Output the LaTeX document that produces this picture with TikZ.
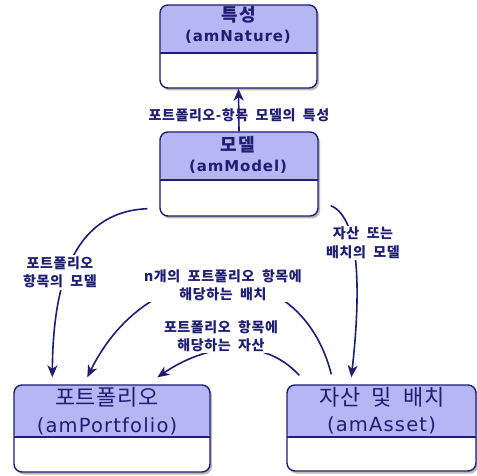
\documentclass[tikz,border=0pt]{standalone}
\usepackage{fontspec}
\setmainfont{Noto Sans CJK KR}[WordSpace=2]
\newfontfamily\lat{DejaVu Sans}
\usetikzlibrary{arrows.meta,shadows,calc}
\definecolor{navy}{RGB}{30,30,115}
\definecolor{hdr}{RGB}{182,182,244}
\begin{document}
\begin{tikzpicture}[x=1pt,y=-1pt,
  box/.style={draw=navy, line width=1.4pt, rounded corners=8pt, fill=white, inner sep=0pt,
    drop shadow={shadow xshift=2pt,shadow yshift=-2.5pt,fill=black!45,opacity=0.6},
    path picture={
      \fill[hdr] ([xshift=-2pt,yshift=2pt]path picture bounding box.north west) rectangle ([xshift=2pt,yshift=-#1]path picture bounding box.north east);
      \draw[navy,line width=1.6pt] ([xshift=-2pt,yshift=-#1]path picture bounding box.north west) -- ([xshift=2pt,yshift=-#1]path picture bounding box.north east);
    }},
  ktop/.style={text=navy, inner sep=0pt, font=\fontsize{18}{18}\selectfont\bfseries\addfontfeature{LetterSpace=6}},
  ltop/.style={text=navy, inner sep=0pt, font=\lat\fontsize{15}{15}\selectfont\bfseries\addfontfeature{LetterSpace=6}},
  kbot/.style={text=navy, inner sep=0pt, font=\fontsize{22}{22}\selectfont\addfontfeature{LetterSpace=3}},
  lbot/.style={text=navy, inner sep=0pt, font=\lat\fontsize{19.5}{19.5}\selectfont\addfontfeature{LetterSpace=6}},
  lbl/.style={text=navy, align=center, inner sep=1.5pt, font=\fontsize{14}{18.5}\selectfont\bfseries\addfontfeature{LetterSpace=4}},
  arr/.style={draw=navy, line width=1.6pt, -{Stealth[length=12pt,width=10pt,inset=3.5pt]}}
]
\useasboundingbox[fill=white] (0,0) rectangle (477,476);

% boxes
\node[box=48pt, minimum width=157pt, minimum height=83pt] (nature) at (238.5,46.5) {};
\node[box=48pt, minimum width=158pt, minimum height=84pt] (model) at (239,174) {};
\node[box=52pt, minimum width=196pt, minimum height=87pt] (portfolio) at (112,428.5) {};
\node[box=52pt, minimum width=189pt, minimum height=86pt] (asset) at (381.5,428) {};

% box titles
\node[ktop] (natureK) at (239,15) {특성};
\node[ltop] (natureL) at (238,37) {(amNature)};
\node[ktop] (modelK) at (238,145) {모델};
\node[ltop] (modelL) at (238,167) {(amModel)};
\node[kbot] (portK) at (107,397) {포트폴리오};
\node[lbot] (portL) at (107,426) {(amPortfolio)};
\node[kbot] (assetK) at (382,397) {자산 및 배치};
\node[lbot] (assetL) at (381.5,425) {(amAsset)};

% connectors
\draw[arr] (model.north) -- (nature.south);
\draw[arr] ($(model.south west)+(-12,-8)$) .. controls (70,212) and (53,290) .. ($(portfolio.north west)+(39,-7)$);
\draw[arr] ($(model.south east)+(12,-11)$) .. controls (362,218) and (360,300) .. ($(asset.north west)+(65,-7)$);
\draw[arr] ($(asset.north west)+(45,-10)$) .. controls (300,250) and (150,250) .. ($(portfolio.north west)+(74,-7)$);
\draw[arr] ($(asset.north west)+(13,-9)$) .. controls (262,335) and (205,345) .. ($(portfolio.north west)+(144,-7)$);

% labels
\node[lbl] (lblA) at (239,115) {포트폴리오-항목 모델의 특성};
\node[lbl, fill=white] (lblB) at (60,272.5) {포트폴리오\\항목의 모델};
\node[lbl, fill=white] (lblC) at (363,243) {자산 또는\\배치의 모델};
\node[lbl, fill=white] (lblD) at (223,285) {n개의 포트폴리오 항목에\\해당하는 배치};
\node[lbl, fill=white] (lblE) at (221,336) {포트폴리오 항목에\\해당하는 자산};
\end{tikzpicture}
\end{document}
